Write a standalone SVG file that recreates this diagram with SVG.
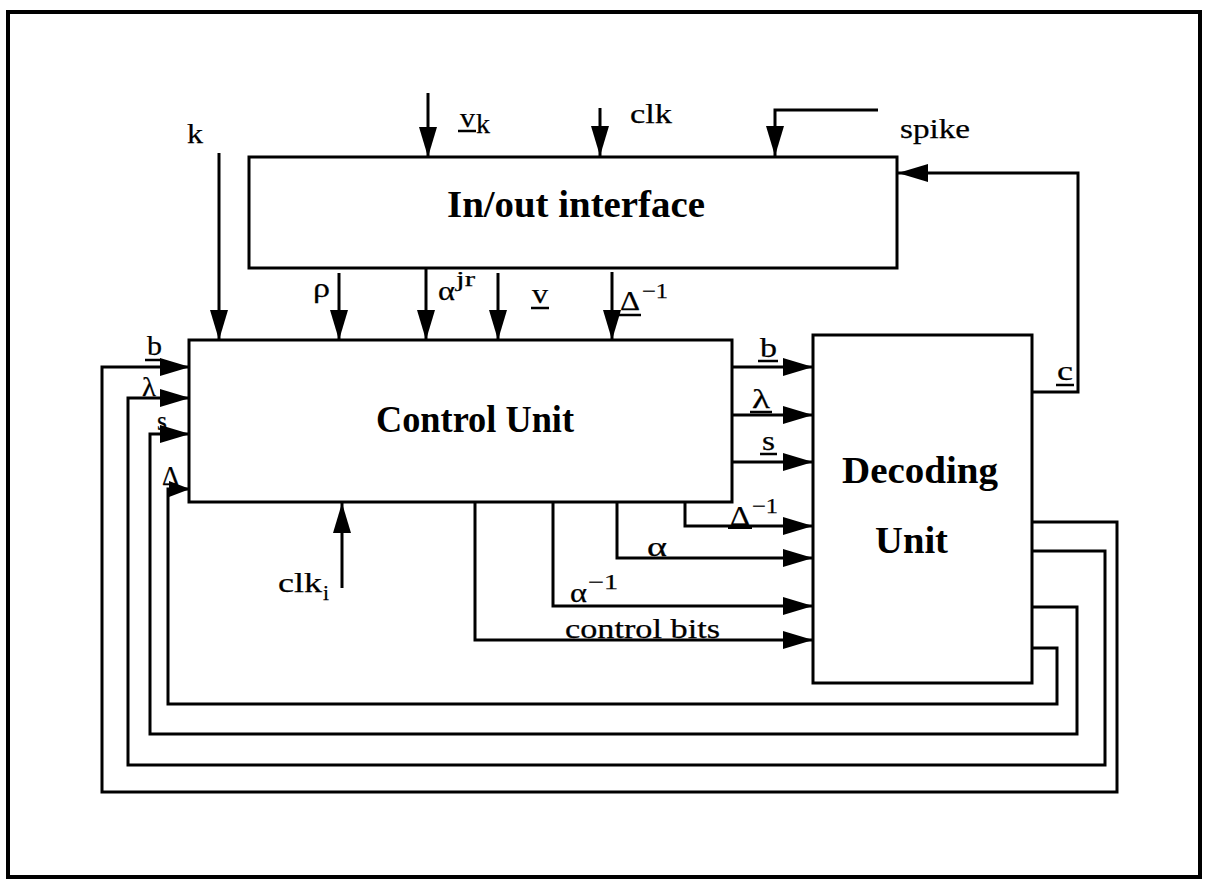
<svg xmlns="http://www.w3.org/2000/svg" width="1207" height="880" viewBox="0 0 1207 880">
<defs>
<marker id="ah" markerUnits="userSpaceOnUse" markerWidth="30" markerHeight="18" refX="30" refY="9" orient="auto">
<path d="M0,0 L30,9 L0,18 z" fill="#000"/>
</marker>
<marker id="ahs" markerUnits="userSpaceOnUse" markerWidth="21" markerHeight="16" refX="21" refY="8" orient="auto">
<path d="M0,0 L21,8 L0,16 z" fill="#000"/>
</marker>
<style>
.w{fill:none;stroke:#000;stroke-width:3;stroke-linejoin:miter}
.a{marker-end:url(#ah)}
.as{marker-end:url(#ahs)}
.box{fill:#fff;stroke:#000;stroke-width:3}
.t{font-family:"Liberation Serif","Times New Roman",serif;font-size:28px;fill:#000;stroke:#000;stroke-width:0.25}
.sm{font-size:21px}
.b{font-family:"Liberation Serif","Times New Roman",serif;font-size:38px;font-weight:bold;fill:#000}
.u{stroke:#000;stroke-width:2.5}
</style>
</defs>
<rect width="1207" height="880" fill="#fff"/>
<rect x="8" y="12" width="1192" height="865" fill="none" stroke="#000" stroke-width="4"/>

<g id="connectors">
<path class="w a" d="M219,153 V340"/>
<path class="w a" d="M428,93 V157"/>
<path class="w a" d="M600,108 V156"/>
<path class="w a" d="M878,110 H775 V156"/>
<path class="w a" d="M339,273 V340"/>
<path class="w a" d="M426,268 V340"/>
<path class="w a" d="M498,273 V340"/>
<path class="w a" d="M612,272 V340"/>
<path class="w a" d="M342,588 V503"/>
<path class="w a" d="M1032,392 H1078 V173 H898"/>
<path class="w a" d="M732,367 H813"/>
<path class="w a" d="M732,415 H813"/>
<path class="w a" d="M732,462 H813"/>
<path class="w a" d="M685,502 V526 H813"/>
<path class="w a" d="M617,502 V558 H813"/>
<path class="w a" d="M553,502 V606 H813"/>
<path class="w a" d="M475,502 V640 H813"/>
<path class="w a" d="M1032,522 H1117 V792 H102 V367 H190"/>
<path class="w a" d="M1032,551 H1105 V765 H128 V398 H190"/>
<path class="w a" d="M1032,607 H1077 V734 H150 V434 H190"/>
<path class="w as" d="M1032,648 H1057 V704 H168 V489 H190"/>
</g>

<g id="io">
<rect class="box" x="249" y="157" width="648" height="111"/>
<text class="b" x="447" y="217" textLength="258" lengthAdjust="spacingAndGlyphs">In/out interface</text>
</g>
<g id="cu">
<rect class="box" x="189" y="340" width="543" height="162"/>
<text class="b" x="376" y="432" textLength="198" lengthAdjust="spacingAndGlyphs">Control Unit</text>
</g>
<g id="du">
<rect class="box" x="813" y="335" width="219" height="348"/>
<text class="b" x="842" y="483" textLength="156" lengthAdjust="spacingAndGlyphs">Decoding</text>
<text class="b" x="875" y="553" textLength="73" lengthAdjust="spacingAndGlyphs">Unit</text>
</g>

<g id="labels">
<text class="t" x="187" y="143" textLength="16" lengthAdjust="spacingAndGlyphs">k</text>
<text class="t" x="460" y="127" textLength="15" lengthAdjust="spacingAndGlyphs">v</text>
<text class="t" x="476" y="133" textLength="14" lengthAdjust="spacingAndGlyphs">k</text>
<line class="u" x1="458" y1="131" x2="476" y2="131"/>
<text class="t" x="630" y="123" textLength="42" lengthAdjust="spacingAndGlyphs">clk</text>
<text class="t" x="900" y="138" textLength="70" lengthAdjust="spacingAndGlyphs">spike</text>

<text class="t" x="313" y="297" textLength="17" lengthAdjust="spacingAndGlyphs">ρ</text>
<text class="t" x="438" y="300" textLength="17" lengthAdjust="spacingAndGlyphs">α</text>
<text class="t sm" x="456" y="286" textLength="19" lengthAdjust="spacingAndGlyphs">jr</text>
<text class="t" x="532" y="303" textLength="16" lengthAdjust="spacingAndGlyphs">v</text>
<line class="u" x1="531" y1="308" x2="549" y2="308"/>
<text class="t" x="620" y="310" textLength="20" lengthAdjust="spacingAndGlyphs">Δ</text>
<line class="u" x1="619" y1="315" x2="641" y2="315"/>
<text class="t sm" x="642" y="298" textLength="26" lengthAdjust="spacingAndGlyphs">−1</text>

<text class="t" x="147" y="355" textLength="15" lengthAdjust="spacingAndGlyphs">b</text>
<line class="u" x1="145" y1="360" x2="161" y2="360"/>
<text class="t" x="142" y="396" textLength="14" lengthAdjust="spacingAndGlyphs">λ</text>
<text class="t" x="157" y="430" textLength="10" lengthAdjust="spacingAndGlyphs">s</text>
<text class="t" x="162" y="485" textLength="17" lengthAdjust="spacingAndGlyphs">Δ</text>

<text class="t" x="760" y="357" textLength="17" lengthAdjust="spacingAndGlyphs">b</text>
<line class="u" x1="758" y1="361" x2="778" y2="361"/>
<text class="t" x="752" y="408" textLength="18" lengthAdjust="spacingAndGlyphs">λ</text>
<line class="u" x1="750" y1="412" x2="772" y2="412"/>
<text class="t" x="762" y="450" textLength="13" lengthAdjust="spacingAndGlyphs">s</text>
<line class="u" x1="760" y1="454" x2="777" y2="454"/>
<text class="t" x="730" y="525" textLength="20" lengthAdjust="spacingAndGlyphs">Δ</text>
<line x1="728" y1="527" x2="752" y2="527" stroke="#000" stroke-width="4"/>
<text class="t sm" x="752" y="513" textLength="26" lengthAdjust="spacingAndGlyphs">−1</text>
<text class="t" x="647" y="556" textLength="20" lengthAdjust="spacingAndGlyphs">α</text>
<text class="t" x="570" y="602" textLength="17" lengthAdjust="spacingAndGlyphs">α</text>
<text class="t sm" x="588" y="589" textLength="30" lengthAdjust="spacingAndGlyphs">−1</text>
<text class="t" x="565" y="638" textLength="155" lengthAdjust="spacingAndGlyphs">control bits</text>
<text class="t" x="1057" y="380" textLength="16" lengthAdjust="spacingAndGlyphs">c</text>
<line class="u" x1="1056" y1="385" x2="1074" y2="385"/>
<text class="t" x="278" y="592" textLength="44" lengthAdjust="spacingAndGlyphs">clk</text>
<text class="t sm" x="323" y="600" textLength="6" lengthAdjust="spacingAndGlyphs">i</text>
</g>
</svg>
